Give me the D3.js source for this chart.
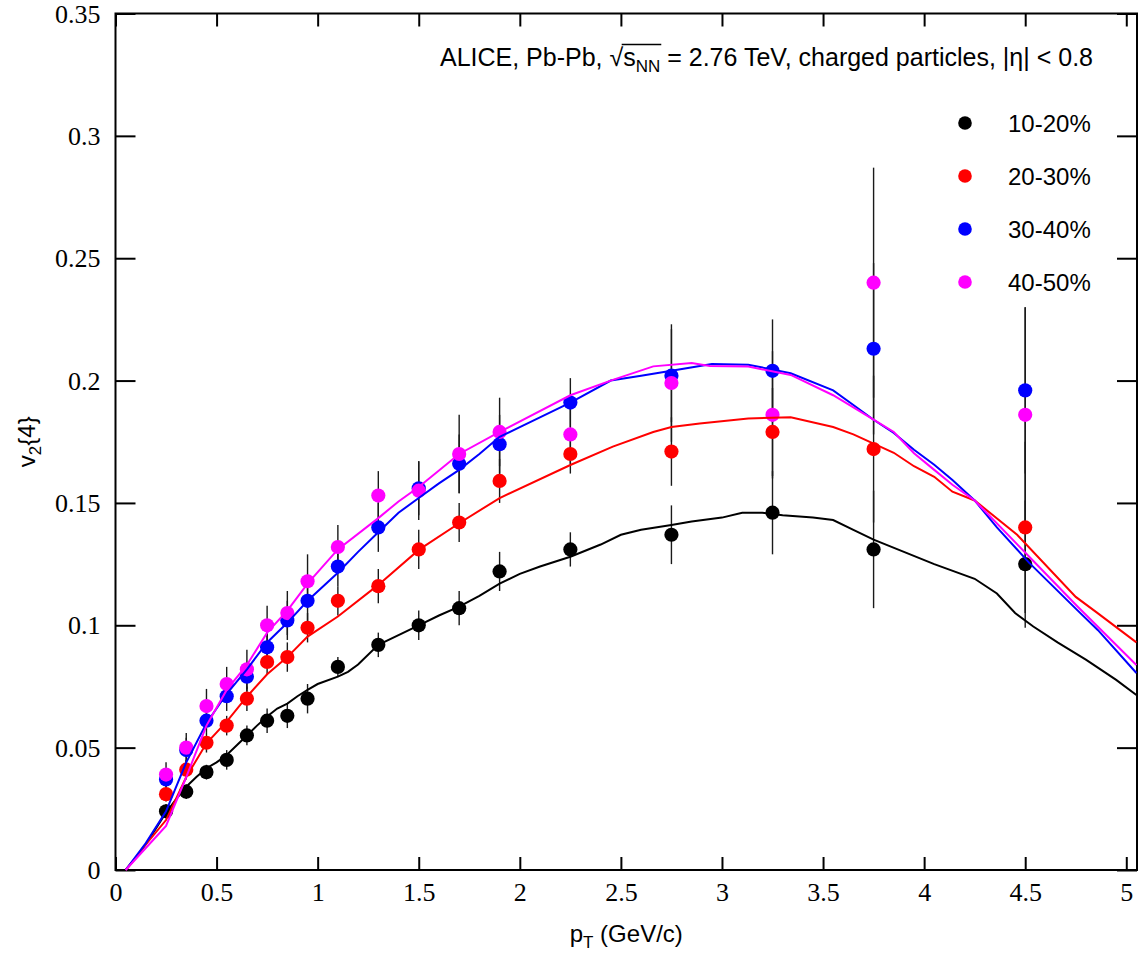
<!DOCTYPE html>
<html>
<head>
<meta charset="utf-8">
<script src="https://cdn.jsdelivr.net/npm/d3@7"></script>
<style>
  body { margin: 0; background: #fff; }
  svg { display: block; }
</style>
</head>
<body>
<div class="chart"></div>
<script>
// measured pT bins
var ptBins = [0.25, 0.35, 0.45, 0.55, 0.65, 0.75, 0.85, 0.95, 1.1, 1.3, 1.5, 1.7, 1.9, 2.25, 2.75, 3.25, 3.75, 4.5];

var centralities = ["10-20%", "20-30%", "30-40%", "40-50%"];
var colors = ["#000000", "#ff0000", "#0000ff", "#ff00ff"];

// v2{4} data points
var v2_10_20 = [0.024, 0.032, 0.040, 0.045, 0.055, 0.061, 0.063, 0.070, 0.083, 0.092, 0.100, 0.107, 0.122, 0.131, 0.137, 0.146, 0.131, 0.125];
var v2_20_30 = [0.031, 0.041, 0.052, 0.059, 0.070, 0.085, 0.087, 0.099, 0.110, 0.116, 0.131, 0.142, 0.159, 0.170, 0.171, 0.179, 0.172, 0.140];
var v2_30_40 = [0.037, 0.049, 0.061, 0.071, 0.079, 0.091, 0.102, 0.110, 0.124, 0.140, 0.156, 0.166, 0.174, 0.191, 0.202, 0.204, 0.213, 0.196];
var v2_40_50 = [0.039, 0.050, 0.067, 0.076, 0.082, 0.100, 0.105, 0.118, 0.132, 0.153, 0.155, 0.170, 0.179, 0.178, 0.199, 0.186, 0.240, 0.186];

// errors
var err_10_20 = [0.003, 0.003, 0.003, 0.004, 0.004, 0.005, 0.005, 0.006, 0.004, 0.005, 0.006, 0.007, 0.008, 0.007, 0.012, 0.017, 0.024, 0.026];
var err_20_30 = [0.003, 0.004, 0.004, 0.004, 0.005, 0.005, 0.006, 0.006, 0.006, 0.007, 0.008, 0.008, 0.009, 0.008, 0.014, 0.018, 0.030, 0.035];
var err_30_40 = [0.004, 0.005, 0.005, 0.006, 0.006, 0.008, 0.008, 0.009, 0.008, 0.010, 0.011, 0.012, 0.012, 0.010, 0.019, 0.021, 0.035, 0.034];
var err_40_50 = [0.005, 0.006, 0.007, 0.007, 0.008, 0.008, 0.009, 0.011, 0.009, 0.010, 0.012, 0.016, 0.014, 0.012, 0.024, 0.026, 0.047, 0.044];

// model curves
var modelPt_10_20 = [0.05, 0.1, 0.15, 0.2, 0.25, 0.3, 0.35, 0.4, 0.45, 0.5, 0.55, 0.6, 0.65, 0.7, 0.75, 0.8, 0.85, 0.9, 0.95, 1.0, 1.1, 1.15, 1.2, 1.3, 1.4, 1.5, 1.6, 1.7, 1.8, 1.9, 2.0, 2.1, 2.25, 2.4, 2.5, 2.6, 2.75, 2.85, 3.0, 3.1, 3.2, 3.3, 3.45, 3.55, 3.65, 3.75, 3.9, 4.05, 4.25, 4.36, 4.45, 4.54, 4.66, 4.8, 4.95, 5.05];
var model_10_20 = [0, 0.005, 0.0105, 0.017, 0.0235, 0.029, 0.034, 0.038, 0.0416, 0.044, 0.047, 0.051, 0.055, 0.059, 0.0627, 0.066, 0.068, 0.071, 0.0736, 0.076, 0.079, 0.081, 0.084, 0.092, 0.096, 0.100, 0.104, 0.1076, 0.112, 0.117, 0.121, 0.124, 0.128, 0.133, 0.137, 0.139, 0.141, 0.1424, 0.144, 0.146, 0.146, 0.145, 0.144, 0.143, 0.139, 0.135, 0.130, 0.125, 0.119, 0.113, 0.105, 0.0995, 0.093, 0.086, 0.0777, 0.0715];

var modelPt_20_30 = [0.05, 0.1, 0.14, 0.25, 0.35, 0.45, 0.55, 0.65, 0.75, 0.85, 0.95, 1.1, 1.3, 1.5, 1.7, 1.9, 2.25, 2.46, 2.66, 2.75, 2.89, 3.13, 3.34, 3.55, 3.65, 3.85, 3.95, 4.05, 4.14, 4.25, 4.46, 4.75, 4.85, 5.05];
var model_20_30 = [0, 0.005, 0.0095, 0.0204, 0.038, 0.0518, 0.0606, 0.0708, 0.080, 0.087, 0.0954, 0.1036, 0.1165, 0.1308, 0.1417, 0.152, 0.1655, 0.173, 0.179, 0.181, 0.1825, 0.1845, 0.185, 0.181, 0.178, 0.1705, 0.165, 0.1607, 0.1546, 0.151, 0.137, 0.1116, 0.1055, 0.093];

var modelPt_30_40 = [0.05, 0.15, 0.25, 0.35, 0.45, 0.55, 0.65, 0.75, 0.85, 0.95, 1.1, 1.2, 1.3, 1.4, 1.5, 1.6, 1.7, 1.8, 1.9, 2.0, 2.25, 2.45, 2.6, 2.75, 2.95, 3.13, 3.34, 3.55, 3.65, 3.75, 3.85, 3.95, 4.05, 4.14, 4.25, 4.36, 4.52, 4.76, 4.86, 5.05];
var model_30_40 = [0, 0.011, 0.024, 0.044, 0.060, 0.072, 0.082, 0.093, 0.101, 0.110, 0.1215, 0.130, 0.138, 0.146, 0.152, 0.158, 0.1635, 0.170, 0.177, 0.181, 0.191, 0.200, 0.202, 0.204, 0.2068, 0.2065, 0.203, 0.196, 0.190, 0.184, 0.1786, 0.1717, 0.1656, 0.1594, 0.151, 0.140, 0.1255, 0.106, 0.098, 0.0805];

var modelPt_40_50 = [0.05, 0.15, 0.25, 0.35, 0.45, 0.55, 0.65, 0.75, 0.85, 0.95, 1.1, 1.3, 1.4, 1.5, 1.7, 1.9, 2.25, 2.46, 2.66, 2.85, 2.94, 3.13, 3.34, 3.55, 3.75, 3.85, 3.95, 4.05, 4.14, 4.25, 4.52, 4.76, 5.05];
var model_40_50 = [0, 0.009, 0.018, 0.038, 0.059, 0.0736, 0.0838, 0.097, 0.106, 0.117, 0.131, 0.1438, 0.1506, 0.1565, 0.170, 0.179, 0.194, 0.2003, 0.2058, 0.2072, 0.206, 0.2057, 0.2023, 0.194, 0.184, 0.179, 0.1703, 0.1635, 0.1574, 0.151, 0.128, 0.1076, 0.0838];

var xTicks = [0, 0.5, 1, 1.5, 2, 2.5, 3, 3.5, 4, 4.5, 5];
var yTicks = [0, 0.05, 0.1, 0.15, 0.2, 0.25, 0.3, 0.35];

var series = [
    { name: centralities[0], color: colors[0], v: v2_10_20, e: err_10_20, mx: modelPt_10_20, my: model_10_20 },
    { name: centralities[1], color: colors[1], v: v2_20_30, e: err_20_30, mx: modelPt_20_30, my: model_20_30 },
    { name: centralities[2], color: colors[2], v: v2_30_40, e: err_30_40, mx: modelPt_30_40, my: model_30_40 },
    { name: centralities[3], color: colors[3], v: v2_40_50, e: err_40_50, mx: modelPt_40_50, my: model_40_50 }
];

var margin = { top: 13.5, right: 4, bottom: 84, left: 115.5 },
    fullW = 1141, fullH = 954,
    width = fullW - margin.left - margin.right,
    height = fullH - margin.top - margin.bottom;

var x = d3.scaleLinear().domain([0, 5.053]).range([0, width]);
var y = d3.scaleLinear().domain([0, 0.35]).range([height, 0]);

var svg = d3.select(".chart")
    .append("svg")
    .attr("width", fullW)
    .attr("height", fullH)
    .append("g")
    .attr("transform", "translate(" + margin.left + "," + margin.top + ")");

var fmt = function (d) { return String(+d.toFixed(2)); };
var serif = "'Liberation Serif', 'Times New Roman', serif";
var sans = "'Liberation Sans', Arial, Helvetica, sans-serif";

// axes, ticks pointing inward
var xAxis = svg.append("g")
    .attr("transform", "translate(0," + height + ")")
    .call(d3.axisBottom(x).tickValues(xTicks).tickFormat(fmt).tickSizeInner(-13).tickSizeOuter(0).tickPadding(13));
var yAxis = svg.append("g")
    .call(d3.axisLeft(y).tickValues(yTicks).tickFormat(fmt).tickSizeInner(-20).tickSizeOuter(0).tickPadding(15));
svg.append("g")
    .call(d3.axisTop(x).tickValues(xTicks).tickFormat("").tickSizeInner(-13).tickSizeOuter(0));
svg.append("g")
    .attr("transform", "translate(" + width + ",0)")
    .call(d3.axisRight(y).tickValues(yTicks).tickFormat("").tickSizeInner(-20).tickSizeOuter(0));

svg.selectAll(".domain").remove();
svg.selectAll(".tick line").attr("stroke", "#000").attr("stroke-width", 2);
svg.selectAll(".tick text")
    .attr("fill", "#000")
    .style("font-family", serif)
    .style("font-size", "26px");
yAxis.selectAll(".tick text").attr("dy", "0.33em");

// frame
svg.append("rect")
    .attr("x", 0).attr("y", 0)
    .attr("width", width).attr("height", height)
    .attr("fill", "none")
    .attr("stroke", "#000")
    .attr("stroke-width", 2);

// error bars
series.forEach(function (s) {
    svg.append("g").selectAll("line")
        .data(ptBins)
        .enter().append("line")
        .attr("x1", function (d) { return x(d); })
        .attr("x2", function (d) { return x(d); })
        .attr("y1", function (d, i) { return y(s.v[i] - s.e[i]); })
        .attr("y2", function (d, i) { return y(s.v[i] + s.e[i]); })
        .attr("stroke", "#1a1a1a")
        .attr("stroke-width", 1.4);
});

// markers
series.forEach(function (s) {
    svg.append("g").selectAll("circle")
        .data(ptBins)
        .enter().append("circle")
        .attr("cx", function (d) { return x(d); })
        .attr("cy", function (d, i) { return y(s.v[i]); })
        .attr("r", 7.1)
        .attr("fill", s.color);
});

// model curves
var line = d3.line()
    .x(function (d) { return x(d[0]); })
    .y(function (d) { return y(d[1]); });

series.forEach(function (s) {
    svg.append("path")
        .datum(d3.zip(s.mx, s.my))
        .attr("d", line)
        .attr("fill", "none")
        .attr("stroke", s.color)
        .attr("stroke-width", 2);
});

// axis titles
svg.append("text")
    .attr("x", width / 2)
    .attr("y", height + 72)
    .attr("text-anchor", "middle")
    .style("font-family", sans)
    .style("font-size", "24px")
    .call(function (t) {
        t.append("tspan").text("p");
        t.append("tspan").attr("dy", 6).style("font-size", "17px").text("T");
        t.append("tspan").attr("dy", -6).text(" (GeV/c)");
    });

svg.append("text")
    .attr("transform", "translate(" + (35 - margin.left) + "," + (height / 2) + ")rotate(-90)")
    .attr("text-anchor", "middle")
    .style("font-family", sans)
    .style("font-size", "24px")
    .call(function (t) {
        t.append("tspan").text("v");
        t.append("tspan").attr("dy", 6).style("font-size", "17px").text("2");
        t.append("tspan").attr("dy", -6).text("{4}");
    });

// header text
var title = svg.append("text")
    .attr("x", 1093 - margin.left)
    .attr("y", 66 - margin.top)
    .attr("text-anchor", "end")
    .style("font-family", sans)
    .style("font-size", "25px");
title.append("tspan").text("ALICE, Pb-Pb, \u221A");
title.append("tspan").text("s");
title.append("tspan").attr("dy", 6).style("font-size", "17px").text("NN");
title.append("tspan").attr("dy", -6).text(" = 2.76 TeV, charged particles, |\u03B7| < 0.8");

// overline of the square root
var tnode = title.node();
var sqrtIdx = "ALICE, Pb-Pb, ".length;
var ext0 = tnode.getExtentOfChar(sqrtIdx);
var ext1 = tnode.getExtentOfChar(sqrtIdx + 3);
svg.append("line")
    .attr("x1", ext0.x + ext0.width - 1.5)
    .attr("x2", ext1.x + ext1.width + 1)
    .attr("y1", ext0.y + 1.5)
    .attr("y2", ext0.y + 1.5)
    .attr("stroke", "#000")
    .attr("stroke-width", 1.3);

// legend
var legend = svg.append("g").selectAll("g")
    .data(series)
    .enter().append("g")
    .attr("transform", function (d, i) { return "translate(" + (965 - margin.left) + "," + (123 - margin.top + i * 53) + ")"; });
legend.append("circle")
    .attr("r", 6.8)
    .attr("fill", function (d) { return d.color; });
legend.append("text")
    .attr("x", 43)
    .attr("y", 9)
    .style("font-family", sans)
    .style("font-size", "24px")
    .text(function (d) { return d.name; });
</script>
</body>
</html>
